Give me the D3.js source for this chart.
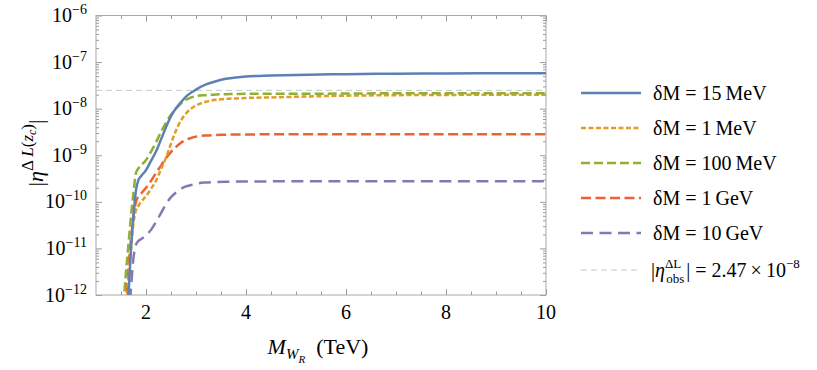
<!DOCTYPE html>
<html>
<head>
<meta charset="utf-8">
<script src="https://cdn.jsdelivr.net/npm/d3@7"></script>
<style>
  body { margin: 0; background: #fff; }
  text { font-family: "Liberation Serif", "DejaVu Serif", serif; fill: #000; }
</style>
</head>
<body>
<svg id="chart" width="817" height="370"></svg>
<script>
// W_R mass in TeV
var massTeV = [1.55, 1.6, 1.65, 1.7, 1.75, 1.8, 1.85, 1.9, 2.0, 2.1, 2.2, 2.3, 2.4, 2.5, 2.6, 2.7, 2.8, 2.9, 3.0,
               3.2, 3.4, 3.6, 3.8, 4.0, 4.5, 5, 6, 7, 8, 9, 10];

// |eta^{Delta L}(z_c)|, one list per mass splitting
var eta15MeV = [2.5e-14, 2.0e-13, 1.0e-12, 1.0e-11, 5.0e-11, 1.78e-10, 2.95e-10, 3.55e-10, 4.8e-10, 7.6e-10, 1.2e-9,
                2.19e-9, 3.98e-9, 6.9e-9, 1.02e-8, 1.38e-8, 1.82e-8, 2.19e-8, 2.57e-8, 3.31e-8, 3.89e-8, 4.37e-8,
                4.68e-8, 4.9e-8, 5.13e-8, 5.3e-8, 5.5e-8, 5.62e-8, 5.69e-8, 5.75e-8, 5.75e-8];
var eta1MeV = [5.0e-14, 3.16e-13, 2.5e-12, 1.0e-11, 3.55e-11, 6.6e-11, 8.3e-11, 1.0e-10, 1.32e-10, 1.9e-10, 2.82e-10,
               5.0e-10, 8.9e-10, 1.78e-9, 3.4e-9, 5.6e-9, 7.9e-9, 1.0e-8, 1.17e-8, 1.41e-8, 1.55e-8, 1.62e-8,
               1.66e-8, 1.7e-8, 1.74e-8, 1.8e-8, 1.9e-8, 1.95e-8, 1.97e-8, 2.0e-8, 2.0e-8];
var eta100MeV = [6.3e-13, 3.16e-12, 1.26e-11, 5.0e-11, 1.58e-10, 4.17e-10, 5.25e-10, 6.0e-10, 7.9e-10, 1.2e-9, 1.9e-9,
                 3.16e-9, 5.0e-9, 7.4e-9, 1.0e-8, 1.29e-8, 1.55e-8, 1.74e-8, 1.86e-8, 1.95e-8, 2.02e-8, 2.04e-8,
                 2.07e-8, 2.09e-8, 2.09e-8, 2.09e-8, 2.11e-8, 2.14e-8, 2.14e-8, 2.14e-8, 2.14e-8];
var eta1GeV = [6.3e-14, 6.3e-13, 4.0e-12, 1.58e-11, 5.0e-11, 1.0e-10, 1.32e-10, 1.51e-10, 2.0e-10, 2.82e-10, 4.17e-10,
               6.0e-10, 8.7e-10, 1.17e-9, 1.51e-9, 1.86e-9, 2.14e-9, 2.34e-9, 2.51e-9, 2.66e-9, 2.72e-9, 2.75e-9,
               2.79e-9, 2.79e-9, 2.82e-9, 2.82e-9, 2.82e-9, 2.82e-9, 2.82e-9, 2.82e-9, 2.82e-9];
var eta10GeV = [3.16e-15, 3.16e-14, 2.5e-13, 1.41e-12, 6.3e-12, 1.2e-11, 1.45e-11, 1.58e-11, 1.9e-11, 2.5e-11, 3.7e-11,
                5.75e-11, 8.9e-11, 1.26e-10, 1.58e-10, 1.9e-10, 2.14e-10, 2.29e-10, 2.45e-10, 2.6e-10, 2.66e-10, 2.69e-10,
                2.72e-10, 2.72e-10, 2.75e-10, 2.75e-10, 2.75e-10, 2.75e-10, 2.75e-10, 2.75e-10, 2.75e-10];

var etaObs = 2.47e-8;

var seriesNames = ["15 MeV", "1 MeV", "100 MeV", "1 GeV", "10 GeV"];
var seriesValues = [eta15MeV, eta1MeV, eta100MeV, eta1GeV, eta10GeV];
var seriesColors = ["#5e81b5", "#e19c24", "#8fb032", "#eb6235", "#8778b3"];
var seriesDash = [null, "5,2.5", "9,4", "10,4.5", "12,6.5"];

var xMajor = [2, 4, 6, 8, 10];
var yExponents = [-12, -11, -10, -9, -8, -7, -6];

var svg = d3.select("#chart");
// plot box (note: "top" is a reserved window property, so prefixed names)
var boxL = 96, boxR = 546, boxT = 15.5, boxB = 295;

var xScale = d3.scaleLinear().domain([1, 10]).range([boxL, boxR]);
var yScale = d3.scaleLog().domain([1e-12, 1e-6]).range([boxB, boxT]);

var xMinor = d3.range(1.5, 10, 0.5).filter(v => xMajor.indexOf(v) < 0);
var yMajor = yExponents.map(e => Math.pow(10, e));
var yMinor = [];
yExponents.slice(0, -1).forEach(e => {
  for (var k = 2; k <= 9; k++) yMinor.push(k * Math.pow(10, e));
});

// ticks on all four sides, pointing inward (Mathematica frame)
function tickGroup(axis, tx, ty) {
  var g = svg.append("g").attr("transform", "translate(" + tx + "," + ty + ")").call(axis);
  g.select(".domain").remove();
  g.selectAll(".tick line").attr("stroke", "#9a9a9a").attr("stroke-width", 1);
  g.selectAll(".tick text").remove();
}
tickGroup(d3.axisBottom(xScale).tickValues(xMajor).tickSize(-6), 0, boxB);
tickGroup(d3.axisBottom(xScale).tickValues(xMinor).tickSize(-3.5), 0, boxB);
tickGroup(d3.axisTop(xScale).tickValues(xMajor).tickSize(-6), 0, boxT);
tickGroup(d3.axisTop(xScale).tickValues(xMinor).tickSize(-3.5), 0, boxT);
tickGroup(d3.axisLeft(yScale).tickValues(yMajor).tickSize(-6), boxL, 0);
tickGroup(d3.axisLeft(yScale).tickValues(yMinor).tickSize(-3), boxL, 0);
tickGroup(d3.axisRight(yScale).tickValues(yMajor).tickSize(-6), boxR, 0);
tickGroup(d3.axisRight(yScale).tickValues(yMinor).tickSize(-3), boxR, 0);

// frame
svg.append("rect")
  .attr("x", boxL).attr("y", boxT)
  .attr("width", boxR - boxL).attr("height", boxB - boxT)
  .attr("fill", "none").attr("stroke", "#a8a8a8").attr("stroke-width", 1);

// tick labels
svg.append("g").selectAll("text").data(xMajor).enter().append("text")
  .attr("x", d => xScale(d)).attr("y", 319)
  .attr("text-anchor", "middle").attr("font-size", 20)
  .text(d => d);

var yLab = svg.append("g").selectAll("text").data(yExponents).enter().append("text")
  .attr("x", 87).attr("y", d => yScale(Math.pow(10, d)) + 6.5)
  .attr("text-anchor", "end").attr("font-size", 20);
yLab.append("tspan").text("10");
yLab.append("tspan").attr("font-size", 14).attr("dy", -8).text(d => "\u2212" + (-d));

// axis titles
var xt = svg.append("text").attr("x", 318).attr("y", 354).attr("text-anchor", "middle").attr("font-size", 22);
xt.append("tspan").attr("font-style", "italic").text("M");
xt.append("tspan").attr("font-style", "italic").attr("font-size", 15).attr("dy", 5).text("W");
xt.append("tspan").attr("font-style", "italic").attr("font-size", 11).attr("dy", 4).text("R");
xt.append("tspan").attr("dy", -9).text("\u2002(TeV)");

var yt = svg.append("text").attr("transform", "translate(43,153) rotate(-90)")
  .attr("text-anchor", "middle").attr("font-size", 22);
yt.append("tspan").text("|");
yt.append("tspan").attr("font-style", "italic").text("\u03b7");
yt.append("tspan").attr("font-size", 17).attr("dy", -10).text("\u0394\u2009");
yt.append("tspan").attr("font-size", 17).attr("font-style", "italic").text("L");
yt.append("tspan").attr("font-size", 17).text("(");
yt.append("tspan").attr("font-size", 17).attr("font-style", "italic").text("z");
yt.append("tspan").attr("font-size", 12).attr("font-style", "italic").attr("dy", 3).text("c");
yt.append("tspan").attr("font-size", 17).attr("dy", -3).text(")");
yt.append("tspan").attr("dy", 10).text("|");

// curves
svg.append("clipPath").attr("id", "plotClip").append("rect")
  .attr("x", boxL).attr("y", boxT).attr("width", boxR - boxL).attr("height", boxB - boxT);

var plot = svg.append("g").attr("clip-path", "url(#plotClip)");

plot.append("line")
  .attr("x1", xScale(1)).attr("x2", xScale(10))
  .attr("y1", yScale(etaObs)).attr("y2", yScale(etaObs))
  .attr("stroke", "#c8c8c8").attr("stroke-width", 1).attr("stroke-dasharray", "6,4");

var line = d3.line()
  .x(d => xScale(d[0]))
  .y(d => yScale(d[1]))
  .curve(d3.curveMonotoneX);

// draw order: purple and red first, blue last on top
[4, 3, 1, 2, 0].forEach(i => {
  var pts = massTeV.map((m, j) => [m, seriesValues[i][j]]);
  plot.append("path")
    .datum(pts)
    .attr("d", line)
    .attr("fill", "none")
    .attr("stroke", seriesColors[i])
    .attr("stroke-width", 2.5)
    .attr("stroke-dasharray", seriesDash[i]);
});

// legend
var legendY = [93, 128, 163, 198, 233];
var leg = svg.append("g");
seriesNames.forEach((name, i) => {
  leg.append("line")
    .attr("x1", 581).attr("x2", 641)
    .attr("y1", legendY[i]).attr("y2", legendY[i])
    .attr("stroke", seriesColors[i]).attr("stroke-width", 2.5)
    .attr("stroke-dasharray", seriesDash[i]);
  var t = leg.append("text").attr("x", 653).attr("y", legendY[i] + 6.5).attr("font-size", 20);
  t.append("tspan").text("\u03b4M = " + name.replace(" ", "\u2009"));
});
leg.append("line")
  .attr("x1", 581).attr("x2", 641).attr("y1", 270).attr("y2", 270)
  .attr("stroke", "#c8c8c8").attr("stroke-width", 1).attr("stroke-dasharray", "6,4");
var lt = leg.append("text").attr("x", 651).attr("y", 276.5).attr("font-size", 20);
lt.append("tspan").text("|");
lt.append("tspan").attr("font-style", "italic").text("\u03b7");
lt.append("tspan").attr("font-size", 13).attr("dy", -9).text("\u0394L");
lt.append("tspan").attr("font-size", 13).attr("dx", -15).attr("dy", 15).text("obs");
lt.append("tspan").attr("dx", 2).attr("dy", -6).text("| = 2.47\u2009\u00d7\u200910");
lt.append("tspan").attr("font-size", 13).attr("dy", -9).text("\u22128");
</script>
</body>
</html>
